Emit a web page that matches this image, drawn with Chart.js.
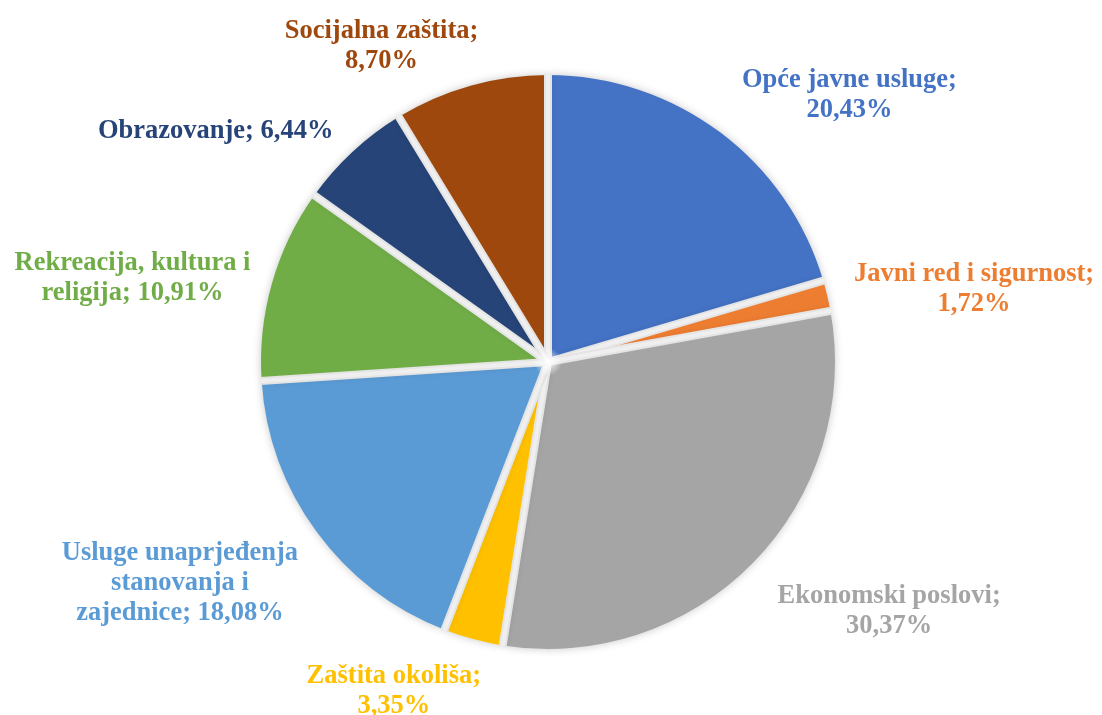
<!DOCTYPE html>
<html>
<head>
<meta charset="utf-8">
<script src="https://cdn.jsdelivr.net/npm/chart.js@4/dist/chart.umd.min.js"></script>
<style>
    html, body { margin: 0; padding: 0; background: #fff; }
    #wrap { width: 1102px; height: 715px; }
</style>
</head>
<body>
<div id="wrap"><canvas id="myChart" width="1102" height="715"></canvas></div>
<script>
'use strict';
// data
const categories = [
    'Opće javne usluge',
    'Javni red i sigurnost',
    'Ekonomski poslovi',
    'Zaštita okoliša',
    'Usluge unaprjeđenja stanovanja i zajednice',
    'Rekreacija, kultura i religija',
    'Obrazovanje',
    'Socijalna zaštita',
];
const shares = [20.43, 1.72, 30.37, 3.35, 18.08, 10.91, 6.44, 8.70];

// style
const colors = ['#4472C4', '#ED7D31', '#A5A5A5', '#FFC000', '#5B9BD5', '#70AD47', '#264478', '#9E480E'];
const wrapWidths = [250, 250, 250, 210, 250, 250, 250, 250];
// small nudges of each label box [x, y], px
const labelNudge = [[15, 3], [15, -4], [16, 10], [11, 10], [-9, -1], [-10, -2], [-11, 3], [11, 2]];
const labelFont = 'bold 26.5px "Liberation Serif", "Times New Roman", serif';
const lineH = 30;
const labelGap = 12;
const gapWidth = 8;

function wrapText(ctx, text, maxW) {
    const words = text.split(' ');
    let lines = [];
    let cur = '';
    words.forEach(function (w) {
        const test = cur ? cur + ' ' + w : w;
        if (cur && ctx.measureText(test).width > maxW) {
            lines.push(cur);
            cur = w;
        } else {
            cur = test;
        }
    });
    if (cur) lines.push(cur);
    return lines;
}

//soft shadow round the slices, then the gaps between them
const shadowPlugin = {
    id: 'shadow',
    beforeDatasetsDraw: function (chart) {
        const ctx = chart.ctx;
        ctx.save();
        ctx.shadowColor = 'rgba(0, 0, 0, 0.22)';
        ctx.shadowBlur = 9;
    },
    afterDatasetsDraw: function (chart) {
        const ctx = chart.ctx;
        ctx.restore();
        const meta = chart.getDatasetMeta(0);
        ctx.save();
        ctx.lineCap = 'butt';
        meta.data.forEach(function (arc) {
            const p = arc.getProps(['x', 'y', 'startAngle', 'outerRadius'], true);
            const ex = p.x + Math.cos(p.startAngle) * (p.outerRadius + 1);
            const ey = p.y + Math.sin(p.startAngle) * (p.outerRadius + 1);
            // grey edge then lighter core
            ctx.strokeStyle = '#e4e4e4';
            ctx.lineWidth = gapWidth;
            ctx.beginPath();
            ctx.moveTo(p.x, p.y);
            ctx.lineTo(ex, ey);
            ctx.stroke();
            ctx.strokeStyle = '#efefef';
            ctx.lineWidth = gapWidth - 4;
            ctx.beginPath();
            ctx.moveTo(p.x, p.y);
            ctx.lineTo(ex, ey);
            ctx.stroke();
        });
        // white glow at the centre
        const c = meta.data[0];
        const g = ctx.createRadialGradient(c.x, c.y, 0, c.x, c.y, 14);
        g.addColorStop(0, 'rgba(255,255,255,1)');
        g.addColorStop(1, 'rgba(255,255,255,0)');
        ctx.fillStyle = g;
        ctx.beginPath();
        ctx.arc(c.x, c.y, 14, 0, Math.PI * 2);
        ctx.fill();
        ctx.restore();
    },
};

//labels outside end of each slice
const labelPlugin = {
    id: 'outLabels',
    afterDraw: function (chart) {
        const ctx = chart.ctx;
        const meta = chart.getDatasetMeta(0);
        ctx.save();
        ctx.font = labelFont;
        ctx.textBaseline = 'middle';
        ctx.textAlign = 'center';
        meta.data.forEach(function (arc, i) {
            const p = arc.getProps(['x', 'y', 'startAngle', 'endAngle', 'outerRadius'], true);
            const mid = (p.startAngle + p.endAngle) / 2;
            const dx = Math.cos(mid);
            const dy = Math.sin(mid);
            const r = p.outerRadius + labelGap;
            const px = p.x + dx * r;
            const py = p.y + dy * r;
            const text = categories[i] + '; ' + shares[i].toFixed(2).replace('.', ',') + '%';
            const lines = wrapText(ctx, text, wrapWidths[i]);
            const w = Math.max.apply(null, lines.map(function (l) { return ctx.measureText(l).width; }));
            const h = lines.length * lineH;
            let left = px - w / 2;
            if (dx > 0.1) left = px;
            else if (dx < -0.1) left = px - w;
            let top = py - h / 2;
            if (dy > 0.5) top = py;
            else if (dy < -0.5) top = py - h;
            left += labelNudge[i][0];
            top += labelNudge[i][1];
            ctx.fillStyle = colors[i];
            lines.forEach(function (l, k) {
                ctx.fillText(l, left + w / 2, top + lineH * k + lineH / 2);
            });
        });
        ctx.restore();
    },
};

const config = {
    type: 'pie',
    data: {
        labels: categories,
        datasets: [
            {
                data: shares,
                backgroundColor: colors,
                borderWidth: 0,
            },
        ],
    },
    options: {
        responsive: false,
        animation: false,
        layout: {
            padding: { top: 75, bottom: 66, left: 0, right: 6 },
        },
        plugins: {
            legend: { display: false },
            tooltip: { enabled: false },
        },
    },
    plugins: [shadowPlugin, labelPlugin],
};
const myChart = new Chart(document.getElementById('myChart'), config);
</script>
</body>
</html>
